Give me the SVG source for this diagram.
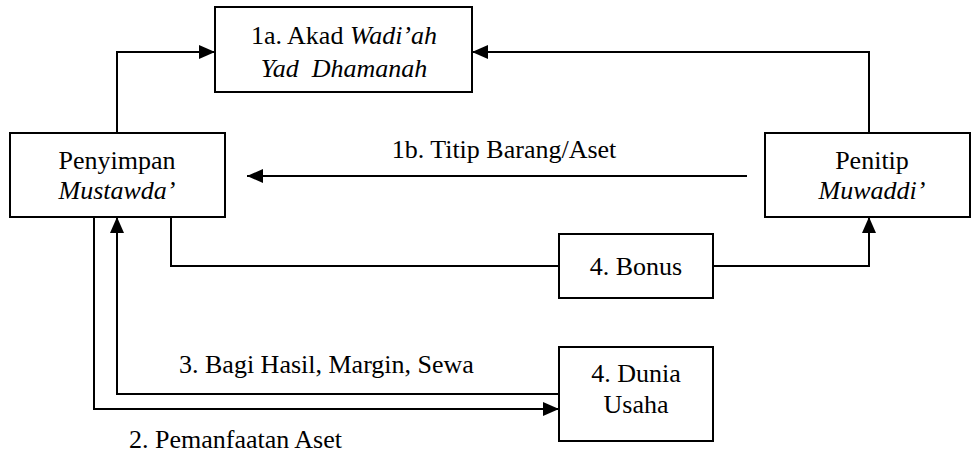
<svg xmlns="http://www.w3.org/2000/svg" width="971" height="453" viewBox="0 0 971 453">
<style>
.box{fill:#fff;stroke:#000;stroke-width:2}
.ln{fill:none;stroke:#000;stroke-width:2}
.m{text-anchor:middle}
.i{font-style:italic}
</style>
<defs>
<marker id="ah" viewBox="0 0 16 14" refX="16" refY="7" markerWidth="16" markerHeight="14" markerUnits="userSpaceOnUse" orient="auto">
<path d="M0,0 L16,7 L0,14 Z" fill="#000"/>
</marker>
</defs>
<g font-family="Liberation Serif, serif" font-size="26" fill="#000">
<g id="connectors">
<polyline class="ln" points="117,133 117,52 215,52" marker-end="url(#ah)"/>
<polyline class="ln" points="869,133 869,52 472,52" marker-end="url(#ah)"/>
<line class="ln" x1="747" y1="176" x2="247" y2="176" stroke-width="2.5" marker-end="url(#ah)"/>
<polyline class="ln" points="171,217 171,266 559,266"/>
<polyline class="ln" points="713,266 869,266 869,217" marker-end="url(#ah)"/>
<polyline class="ln" points="94,217 94,409 559,409" marker-end="url(#ah)"/>
<polyline class="ln" points="559,394 117,394 117,217" marker-end="url(#ah)"/>
<text x="504" y="158" class="m">1b. Titip Barang/Aset</text>
<text x="179" y="373">3. Bagi Hasil, Margin, Sewa</text>
<text x="129" y="448">2. Pemanfaatan Aset</text>
</g>
<g id="akad">
<rect class="box" x="215" y="7" width="257" height="85"/>
<text x="344" y="44" class="m">1a. Akad <tspan class="i">Wadi’ah</tspan></text>
<text x="344" y="77" class="m i" xml:space="preserve">Yad  Dhamanah</text>
</g>
<g id="penyimpan">
<rect class="box" x="10" y="133" width="215" height="84"/>
<text x="117" y="169" class="m">Penyimpan</text>
<text x="117" y="199" class="m i">Mustawda’</text>
</g>
<g id="penitip">
<rect class="box" x="765" y="133" width="205" height="84"/>
<text x="872" y="169" class="m">Penitip</text>
<text x="872" y="199" class="m i">Muwaddi’</text>
</g>
<g id="bonus">
<rect class="box" x="559" y="234" width="154" height="64"/>
<text x="636" y="275" class="m">4. Bonus</text>
</g>
<g id="dunia">
<rect class="box" x="559" y="347" width="154" height="94"/>
<text x="636" y="382" class="m">4. Dunia</text>
<text x="636" y="413" class="m">Usaha</text>
</g>
</g>
</svg>
